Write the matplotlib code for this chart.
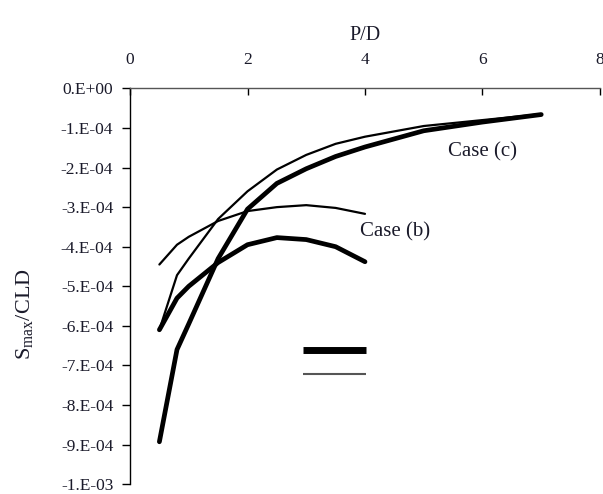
import matplotlib
matplotlib.use('Agg')
from matplotlib import pyplot as plt
from matplotlib.lines import Line2D
import numpy as np

plt.rcParams['font.family'] = ['Liberation Serif', 'DejaVu Serif']
plt.rcParams['mathtext.fontset'] = 'custom'
plt.rcParams['mathtext.rm'] = 'Liberation Serif'

# P/D values
pd_b = [0.5, 0.8, 1.0, 1.5, 2.0, 2.5, 3.0, 3.5, 4.0]
pd_c = [0.5, 0.8, 1.0, 1.5, 2.0, 2.5, 3.0, 3.5, 4.0, 5.0, 6.0, 7.0]

# Smax/CLD, units of 1e-4
b_thick = [-6.1, -5.3, -5.0, -4.4, -3.95, -3.77, -3.82, -4.0, -4.38]
b_thin = [-4.45, -3.95, -3.75, -3.35, -3.1, -3.0, -2.95, -3.02, -3.17]
c_thick = [-8.93, -6.6, -5.95, -4.3, -3.05, -2.4, -2.03, -1.72, -1.48, -1.07, -0.85, -0.66]
c_thin = [-6.1, -4.72, -4.3, -3.3, -2.6, -2.05, -1.68, -1.4, -1.22, -0.95, -0.8, -0.65]

xticks = [0, 2, 4, 6, 8]
yticks = [0, -1e-4, -2e-4, -3e-4, -4e-4, -5e-4, -6e-4, -7e-4, -8e-4, -9e-4, -1e-3]
yticklabels = ['0.E+00', '-1.E-04', '-2.E-04', '-3.E-04', '-4.E-04', '-5.E-04',
               '-6.E-04', '-7.E-04', '-8.E-04', '-9.E-04', '-1.E-03']

fig = plt.figure(figsize=(6.03, 4.94), dpi=100)
ax = fig.add_axes([0.2156, 0.02, 0.7794, 0.801])

thick = dict(color='black', lw=3.4, solid_capstyle='round', solid_joinstyle='round')
thin = dict(color='black', lw=1.6, solid_capstyle='round', solid_joinstyle='round')
ax.plot(pd_c, np.array(c_thick)*1e-4, **thick)
ax.plot(pd_c, np.array(c_thin)*1e-4, **thin)
ax.plot(pd_b, np.array(b_thick)*1e-4, **thick)
ax.plot(pd_b, np.array(b_thin)*1e-4, **thin)

ax.text(5.42, -1.6e-4, 'Case (c)', fontsize=15, va='center', ha='left', color='#1a1a2a')
ax.text(3.92, -3.63e-4, 'Case (b)', fontsize=15, va='center', ha='left', color='#1a1a2a')

ax.set_xlim(0, 8)
ax.set_ylim(-1e-3, 0)
ax.xaxis.tick_top()
ax.xaxis.set_label_position('top')
ax.set_xticks(xticks)
ax.set_xticklabels([str(t) for t in xticks])
ax.set_yticks(yticks)
ax.set_yticklabels(yticklabels)
ax.tick_params(axis='x', direction='in', length=5, width=1, labelsize=12.5, pad=15,
               labelcolor='#1a1a2a')
ax.tick_params(axis='y', direction='out', length=6, width=1, labelsize=12.5, pad=6,
               labelcolor='#1a1a2a')
ax.set_xlabel('P/D', fontsize=14.5, labelpad=8, color='#1a1a2a')
ax.set_ylabel(r'S$_{\rm max}$/CLD', fontsize=16, color='#1a1a2a')
ax.yaxis.set_label_coords(-0.2, 0.43)

for side in ['right', 'bottom']:
    ax.spines[side].set_visible(False)
for side in ['left', 'top']:
    ax.spines[side].set_linewidth(1.0)
ax.spines['top'].set_color('#555555')

# legend with line samples only
handles = [Line2D([], [], color='black', lw=5, solid_capstyle='butt'),
           Line2D([], [], color='#555555', lw=1.5, solid_capstyle='butt')]
ax.legend(handles, ['', ''], loc='center', bbox_to_anchor=(0.435, 0.305), frameon=False,
          handlelength=4.5, labelspacing=0.75, handletextpad=0)

fig.savefig('out.png', dpi=100)
